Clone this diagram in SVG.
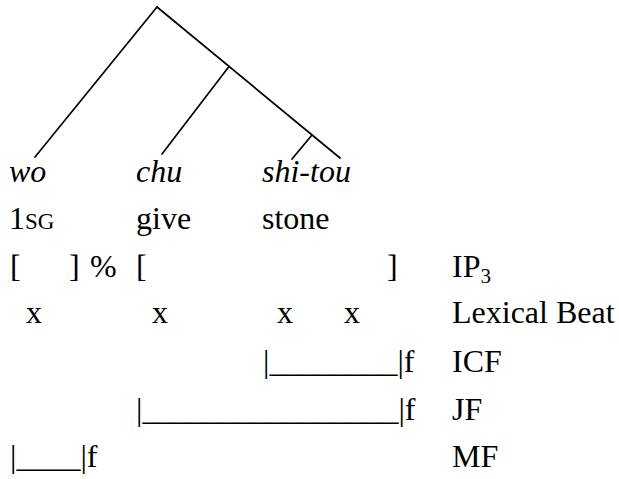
<svg xmlns="http://www.w3.org/2000/svg" width="619" height="479" viewBox="0 0 619 479" font-family="'Liberation Serif', 'Times New Roman', serif">
  <style>
    .t { font-family: "Liberation Serif", "Times New Roman", serif; font-size: 32px; fill: #000; }
    .it { font-style: italic; }
    .sc { font-size: 23px; }
    .sub { font-size: 21px; }
    .br { fill: none; stroke: #000; stroke-width: 1.7; stroke-linecap: round; }
  </style>
  <rect width="619" height="479" fill="#fff"/>

  <!-- syntactic tree -->
  <g id="tree" class="br">
    <line x1="157" y1="7" x2="35" y2="157"/>
    <line x1="157" y1="7" x2="340" y2="158"/>
    <line x1="229" y1="66.5" x2="162" y2="154"/>
    <line x1="312" y1="135" x2="292" y2="159"/>
  </g>

  <!-- words -->
  <g id="words">
    <text class="t it" x="9" y="182">wo</text>
    <text class="t it" x="136" y="182">chu</text>
    <text class="t it" x="262" y="182">shi-tou</text>
  </g>

  <!-- glosses -->
  <g id="gloss">
    <text class="t" x="9" y="229">1<tspan class="sc">SG</tspan></text>
    <text class="t" x="136" y="229">give</text>
    <text class="t" x="262" y="229">stone</text>
  </g>

  <!-- intonational phrasing -->
  <g id="ip">
    <text class="t" x="10" y="277">[</text>
    <text class="t" x="69" y="277">]</text>
    <text class="t" x="90" y="277">%</text>
    <text class="t" x="136" y="277">[</text>
    <text class="t" x="387" y="277">]</text>
    <text class="t" x="452" y="277">IP<tspan class="sub" dy="6">3</tspan></text>
  </g>

  <!-- lexical beats -->
  <g id="beat">
    <text class="t" x="26" y="323">x</text>
    <text class="t" x="152" y="323">x</text>
    <text class="t" x="277" y="323">x</text>
    <text class="t" x="344" y="323">x</text>
    <text class="t" x="452" y="323">Lexical Beat</text>
  </g>

  <!-- focus domains -->
  <g id="icf">
    <text class="t" x="263" y="372">|________|f</text>
    <text class="t" x="452" y="372">ICF</text>
  </g>
  <g id="jf">
    <text class="t" x="136" y="420">|________________|f</text>
    <text class="t" x="452" y="420">JF</text>
  </g>
  <g id="mf">
    <text class="t" x="10" y="467">|____|f</text>
    <text class="t" x="452" y="467">MF</text>
  </g>
</svg>
